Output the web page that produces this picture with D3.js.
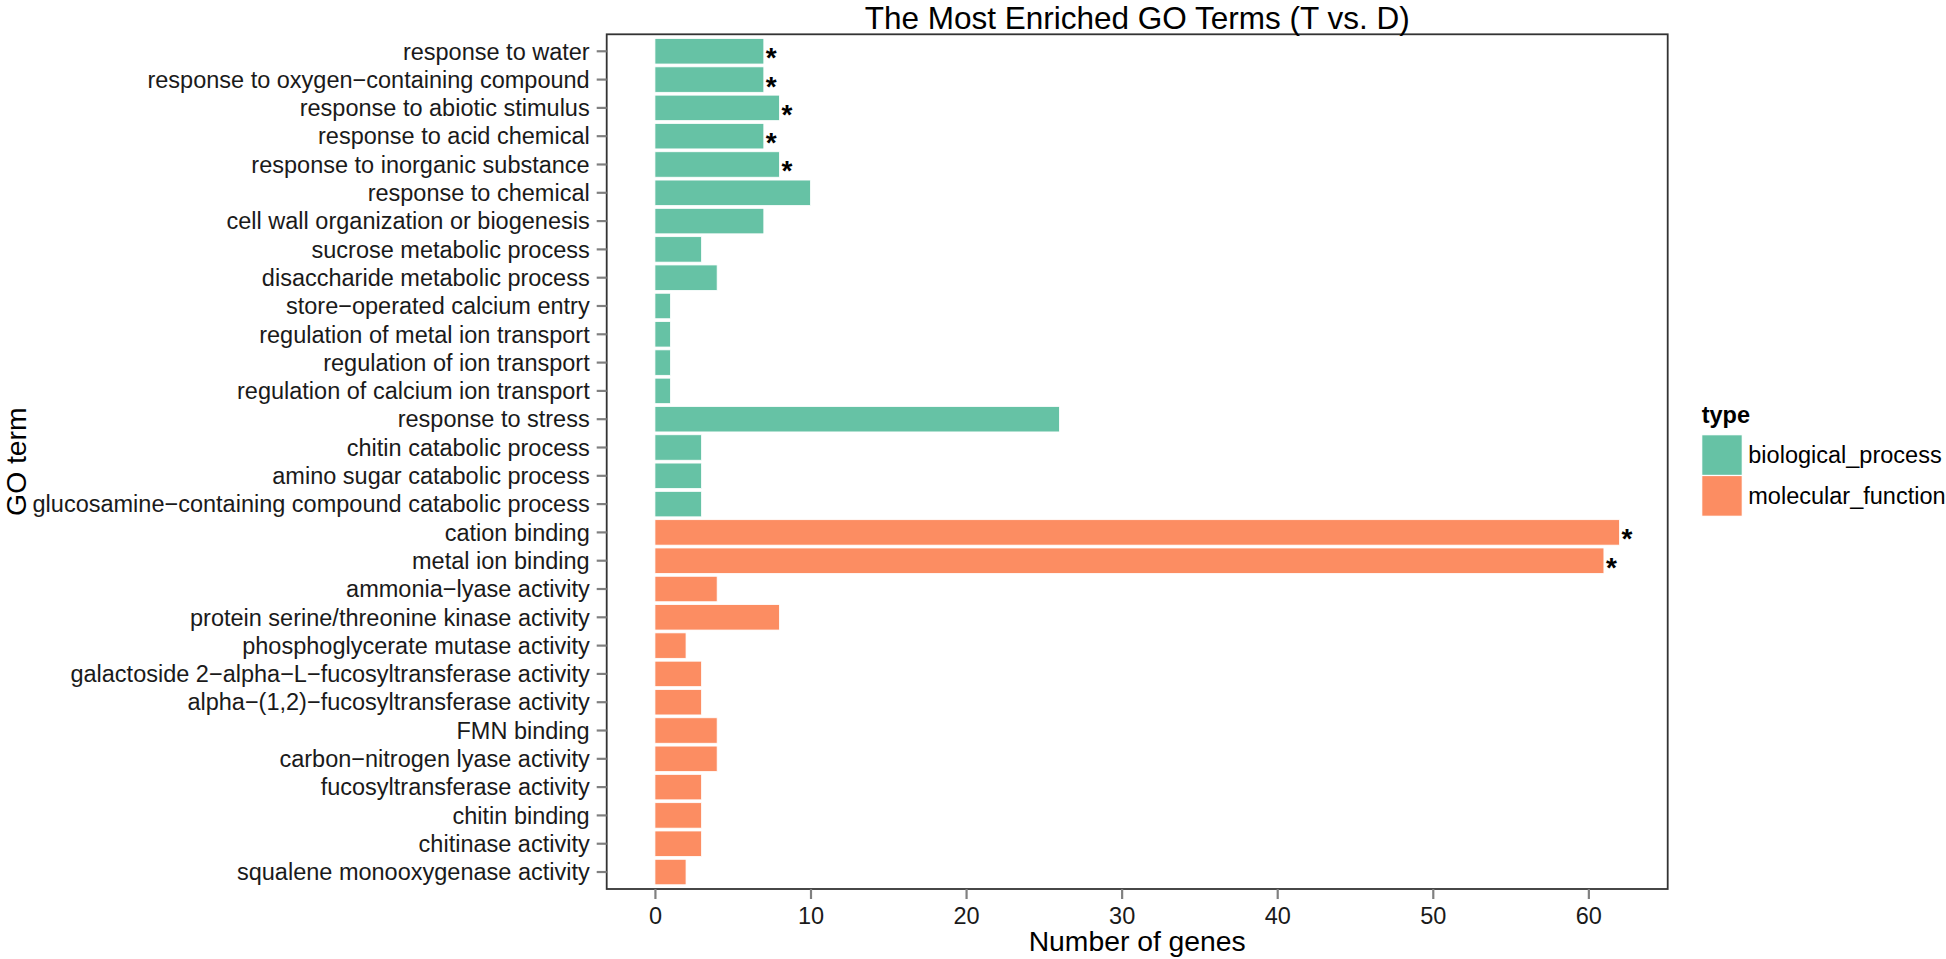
<!DOCTYPE html>
<html>
<head>
<meta charset="utf-8">
<script src="https://cdn.jsdelivr.net/npm/d3@7"></script>
<style>
  html, body { margin: 0; padding: 0; background: #fff; }
  text { font-family: "Liberation Sans", Arial, Helvetica, sans-serif; }
</style>
</head>
<body>
<svg id="chart" width="1946" height="959"></svg>
<script>
// ---- data ----
const terms = [
  "response to water",
  "response to oxygen\u2212containing compound",
  "response to abiotic stimulus",
  "response to acid chemical",
  "response to inorganic substance",
  "response to chemical",
  "cell wall organization or biogenesis",
  "sucrose metabolic process",
  "disaccharide metabolic process",
  "store\u2212operated calcium entry",
  "regulation of metal ion transport",
  "regulation of ion transport",
  "regulation of calcium ion transport",
  "response to stress",
  "chitin catabolic process",
  "amino sugar catabolic process",
  "glucosamine\u2212containing compound catabolic process",
  "cation binding",
  "metal ion binding",
  "ammonia\u2212lyase activity",
  "protein serine/threonine kinase activity",
  "phosphoglycerate mutase activity",
  "galactoside 2\u2212alpha\u2212L\u2212fucosyltransferase activity",
  "alpha\u2212(1,2)\u2212fucosyltransferase activity",
  "FMN binding",
  "carbon\u2212nitrogen lyase activity",
  "fucosyltransferase activity",
  "chitin binding",
  "chitinase activity",
  "squalene monooxygenase activity"
];
const geneCounts = [7, 7, 8, 7, 8, 10, 7, 3, 4, 1, 1, 1, 1, 26, 3, 3, 3, 62, 61, 4, 8, 2, 3, 3, 4, 4, 3, 3, 3, 2];
const termTypes = [
  "biological_process","biological_process","biological_process","biological_process","biological_process",
  "biological_process","biological_process","biological_process","biological_process","biological_process",
  "biological_process","biological_process","biological_process","biological_process","biological_process",
  "biological_process","biological_process",
  "molecular_function","molecular_function","molecular_function","molecular_function","molecular_function",
  "molecular_function","molecular_function","molecular_function","molecular_function","molecular_function",
  "molecular_function","molecular_function","molecular_function"
];
const significant = [true, true, true, true, true, false, false, false, false, false, false, false, false, false, false, false, false,
  true, true, false, false, false, false, false, false, false, false, false, false, false];
const typeNames = ["biological_process", "molecular_function"];
const typeColors = ["#66C2A5", "#FC8D62"];
const xTicks = [0, 10, 20, 30, 40, 50, 60];
const titleText = "The Most Enriched GO Terms (T vs. D)";
const xTitle = "Number of genes";
const yTitle = "GO term";
const legendTitle = "type";

const rows = terms.map((t, i) => ({term: t, count: geneCounts[i], type: termTypes[i], sig: significant[i]}));

// ---- layout ----
const panel = {left: 606.7, top: 34.3, right: 1667.7, bottom: 889};
const svg = d3.select("#chart");
svg.append("rect").attr("width", 1946).attr("height", 959).attr("fill", "#fff");

const maxV = d3.max(geneCounts);
const pad = maxV * 0.05;
const x = d3.scaleLinear().domain([-pad, maxV + pad]).range([panel.left, panel.right]);
const y = d3.scaleBand().domain(terms).range([panel.top, panel.bottom]).paddingInner(0.1).paddingOuter(0.15);
const color = d3.scaleOrdinal().domain(typeNames).range(typeColors);

// bars
svg.append("g").selectAll("rect").data(rows).join("rect")
  .attr("x", x(0))
  .attr("y", d => y(d.term))
  .attr("width", d => x(d.count) - x(0))
  .attr("height", y.bandwidth())
  .attr("fill", d => color(d.type))
  .attr("stroke", "#ffffff")
  .attr("stroke-width", 0.8);

// stars
svg.append("g").selectAll("text").data(rows.filter(d => d.sig)).join("text")
  .attr("x", d => x(d.count) + 2)
  .attr("y", d => y(d.term) + y.bandwidth() / 2 + 16)
  .attr("font-size", 28)
  .attr("font-weight", "bold")
  .attr("fill", "#000")
  .text("*");

// panel border
svg.append("rect")
  .attr("x", panel.left).attr("y", panel.top)
  .attr("width", panel.right - panel.left).attr("height", panel.bottom - panel.top)
  .attr("fill", "none").attr("stroke", "#333").attr("stroke-width", 1.8);

// y axis
const yAxis = d3.axisLeft(y).tickSize(10).tickPadding(7);
const gy = svg.append("g").attr("transform", `translate(${panel.left},0)`).call(yAxis);
gy.select(".domain").remove();
gy.selectAll(".tick line").attr("stroke", "#808080").attr("stroke-width", 2.2);
gy.selectAll(".tick text").attr("font-size", 23.5).attr("fill", "#1a1a1a")
  .attr("font-family", "Liberation Sans, Arial, sans-serif").attr("dy", "0.35em");

// x axis
const xAxis = d3.axisBottom(x).tickValues(xTicks).tickFormat(d3.format("d")).tickSize(10).tickPadding(8);
const gx = svg.append("g").attr("transform", `translate(0,${panel.bottom})`).call(xAxis);
gx.select(".domain").remove();
gx.selectAll(".tick line").attr("stroke", "#808080").attr("stroke-width", 2.2);
gx.selectAll(".tick text").attr("font-size", 23.5).attr("fill", "#1a1a1a")
  .attr("font-family", "Liberation Sans, Arial, sans-serif");

// titles
const cx = (panel.left + panel.right) / 2;
svg.append("text").attr("x", cx).attr("y", 29).attr("text-anchor", "middle")
  .attr("font-size", 31.5).attr("fill", "#000").text(titleText);
svg.append("text").attr("x", cx).attr("y", 951).attr("text-anchor", "middle")
  .attr("font-size", 28.3).attr("fill", "#000").text(xTitle);
svg.append("text")
  .attr("transform", `translate(26,${(panel.top + panel.bottom) / 2}) rotate(-90)`)
  .attr("text-anchor", "middle").attr("font-size", 28.3).attr("fill", "#000").text(yTitle);

// legend
const lg = svg.append("g");
lg.append("text").attr("x", 1701.7).attr("y", 423).attr("font-size", 23.5)
  .attr("font-weight", "bold").attr("fill", "#000").text(legendTitle);
const keyH = 40.8;
lg.selectAll("rect").data(typeNames).join("rect")
  .attr("x", 1701.7).attr("y", (d, i) => 434.7 + i * keyH)
  .attr("width", 40.6).attr("height", keyH)
  .attr("fill", d => color(d)).attr("stroke", "#fff").attr("stroke-width", 1.2);
lg.selectAll("text.lab").data(typeNames).join("text").attr("class", "lab")
  .attr("x", 1748.3).attr("y", (d, i) => 463.3 + i * keyH)
  .attr("font-size", 23.5).attr("fill", "#000").text(d => d);
</script>
</body>
</html>
